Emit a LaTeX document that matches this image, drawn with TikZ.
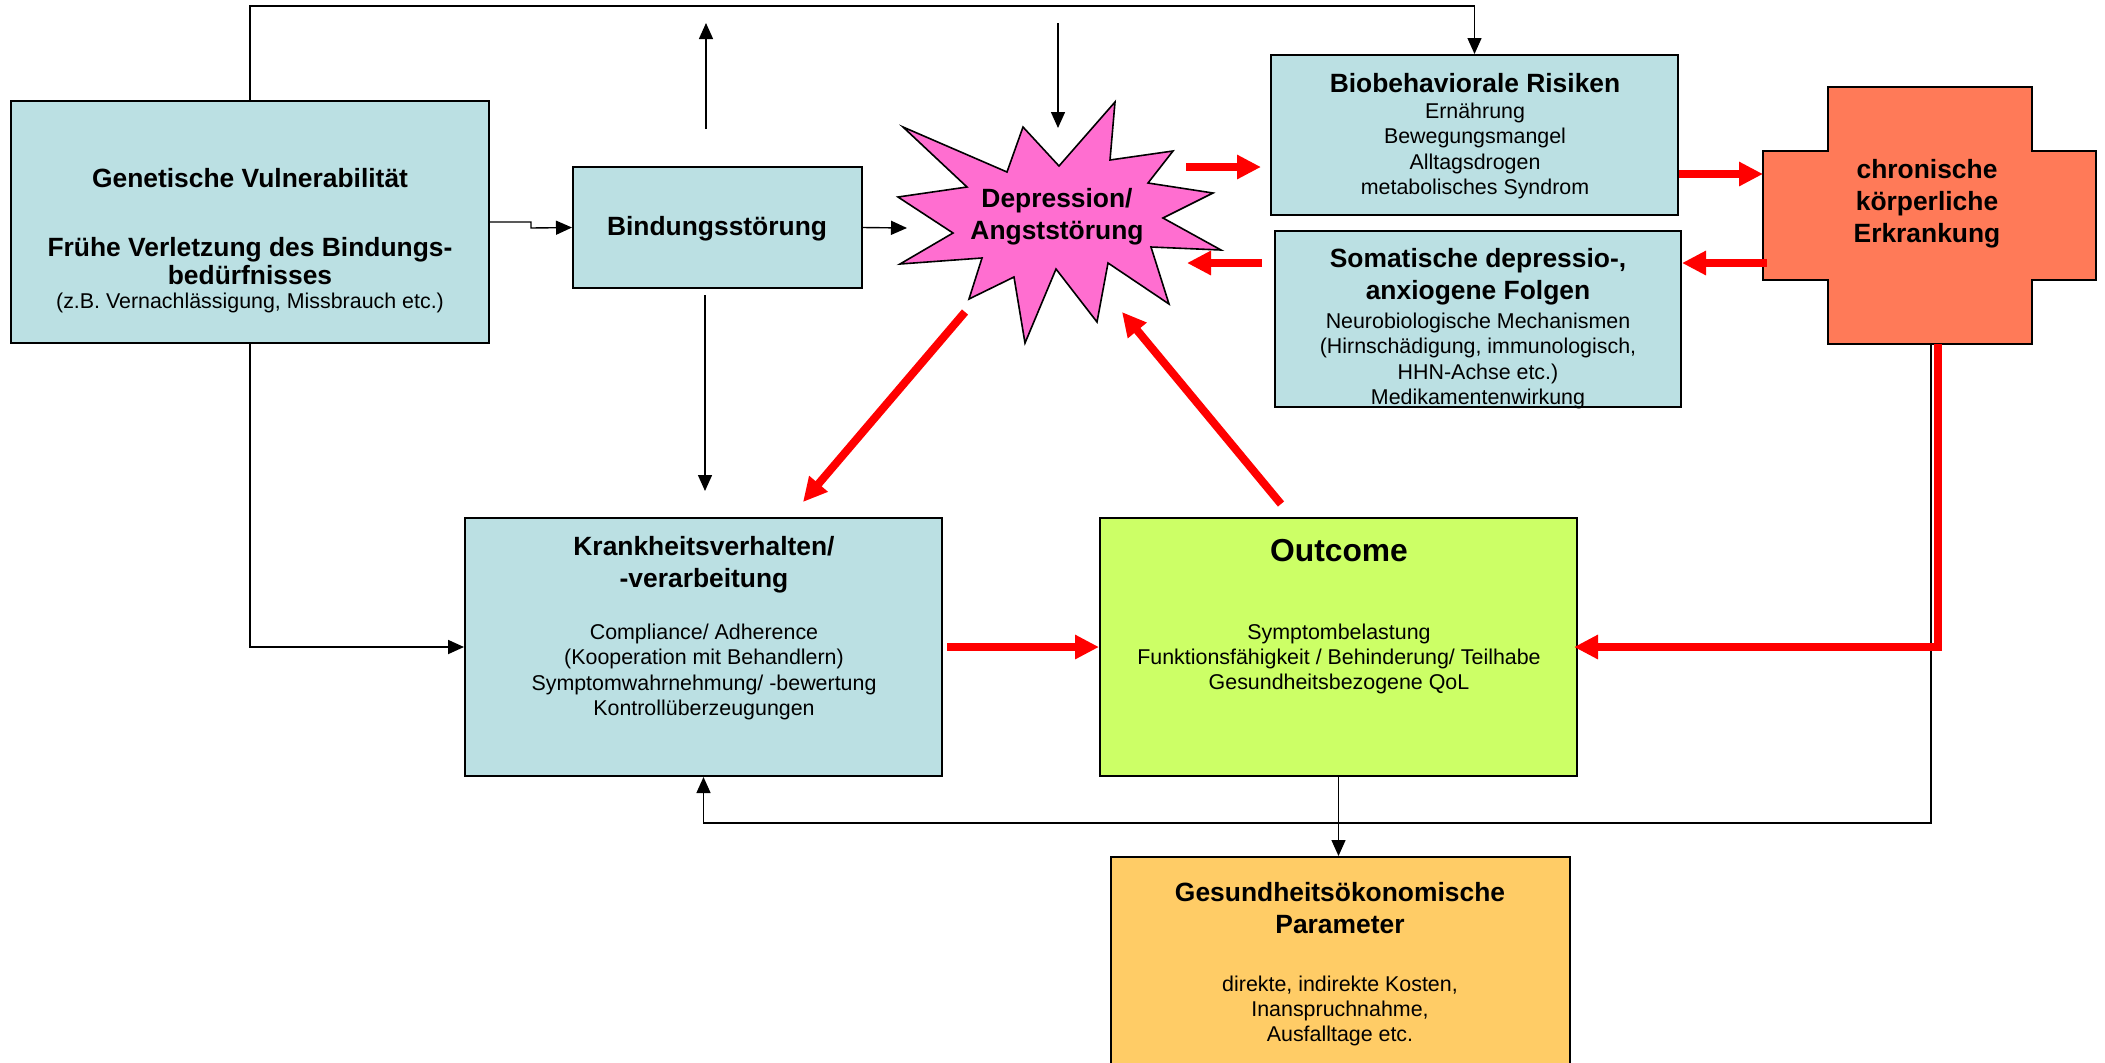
\documentclass[tikz,border=0pt]{standalone}
\usepackage{fontspec}
\setmainfont{Liberation Sans}
\usetikzlibrary{arrows.meta, fit}

\definecolor{vulnblue}{RGB}{187,224,227}
\definecolor{starpink}{RGB}{255,110,208}
\definecolor{chronred}{RGB}{255,122,88}
\definecolor{outgreen}{RGB}{204,255,102}
\definecolor{costorange}{RGB}{255,204,102}

\tikzset{
  box/.style={draw, line width=1pt, inner sep=0pt},
  title/.style={font=\bfseries\fontsize{13.2}{16}\selectfont, align=center, inner sep=0pt},
  body/.style={font=\fontsize{10.7}{12.7}\selectfont, align=center, inner sep=0pt},
  link/.style={line width=0.7pt, -{Triangle[length=8pt,width=7pt]}},
  redlink/.style={red, line width=4pt, -{Triangle[length=12pt,width=11.5pt]}},
}

\begin{document}
\begin{tikzpicture}[x=0.5pt, y=-0.5pt]
      \useasboundingbox (0,0) rectangle (2105,1062);

      \node[box, fill=vulnblue, fit={(11,101) (489,343)}] (gen) {};
      \node[box, fill=vulnblue, fit={(573,167) (862,288)}] (bind) {};
      \node[box, fill=vulnblue, fit={(1271,55) (1678,215)}] (bio) {};
      \node[box, fill=vulnblue, fit={(1275,231) (1681,407)}] (soma) {};
      \node[box, fill=vulnblue, fit={(465,518) (942,776)}] (krank) {};
      \node[box, fill=outgreen, fit={(1100,518) (1577,776)}] (outcome) {};
      \node[box, fill=costorange, fit={(1111,857) (1570,1080)}] (gesund) {};

      % star and cross
      \draw[fill=starpink, line width=0.8pt] plot coordinates {(903,127) (1007,172) (1023,127)
        (1059,166) (1115,102) (1110,160) (1173,151) (1148,183) (1213,193) (1163,218)
        (1221,250) (1151,247) (1169,304) (1108,263) (1097,322) (1056,269) (1025,343)
        (1014,277) (969,299) (982,258) (900,264) (953,233) (898,197) (967,187)} -- cycle;
      \draw[fill=chronred, line width=1pt] (1828,87) -- (2032,87) -- (2032,151) -- (2096,151)
        -- (2096,280) -- (2032,280) -- (2032,344) -- (1828,344) -- (1828,280) -- (1763,280)
        -- (1763,151) -- (1828,151) -- cycle;

      \node[title] (gentitle) at (250,178) {Genetische Vulnerabilität};
      \node[title, font=\bfseries\fontsize{13.2}{14}\selectfont] (genmid) at (250,261)
        {Frühe Verletzung des Bindungs-\\bedürfnisses};
      \node[body] (gensub) at (250,303) {(z.B. Vernachlässigung, Missbrauch etc.)};
      \node[title] (bindtext) at (717,229) {Bindungsstörung};
      \node[title] (depr) at (1057,217) {Depression/\\Angststörung};
      \node[title] (biotitle) at (1475,83) {Biobehaviorale Risiken};
      \node[body] (biotext) at (1475,151) {Ernährung\\Bewegungsmangel\\Alltagsdrogen\\metabolisches Syndrom};
      \node[title] (somatitle) at (1478,277) {Somatische depressio-,\\anxiogene Folgen};
      \node[body] (somatext) at (1478,361) {Neurobiologische Mechanismen\\(Hirnschädigung, immunologisch,\\HHN-Achse etc.)\\Medikamentenwirkung};
      \node[title] (chron) at (1927,204) {chronische\\körperliche\\Erkrankung};
      \node[title] (kranktitle) at (704,565) {Krankheitsverhalten/\\-verarbeitung};
      \node[body] (kranktext) at (704,672) {Compliance/ Adherence\\(Kooperation mit Behandlern)\\Symptomwahrnehmung/ -bewertung\\Kontrollüberzeugungen};
      \node[title, font=\bfseries\fontsize{15.9}{18}\selectfont] (outtitle) at (1339,551) {Outcome};
      \node[body] (outtext) at (1339,659) {Symptombelastung\\Funktionsfähigkeit / Behinderung/ Teilhabe\\Gesundheitsbezogene QoL};
      \node[title] (gestitle) at (1340,908) {Gesundheitsökonomische\\Parameter};
      \node[body] (gestext) at (1340,1011) {direkte, indirekte Kosten,\\Inanspruchnahme,\\Ausfalltage etc.};

      % free ends
      \coordinate (uplow) at (706,129);
      \coordinate (uphigh) at (706,23);
      \coordinate (downhigh) at (1058,23);
      \coordinate (downlow) at (1058,128);
      \coordinate (midhigh) at (705,295);
      \coordinate (midlow) at (705,491);
      \coordinate (deprwest) at (907,228);
      \coordinate (chronfoot) at (1931,344);
      \coordinate (chronfootred) at (1938,344);
      \coordinate (stareast) at (1186,167);
      \coordinate (biowest) at (1261,167);
      \coordinate (chronwest) at (1763,174);
      \coordinate (chronsw) at (1767,263);
      \coordinate (somawest) at (1262,263);
      \coordinate (starse) at (1187,263);
      \coordinate (starsw) at (965,312);
      \coordinate (kranknorth) at (803,502);
      \coordinate (outnorth) at (1281,504);
      \coordinate (starsouth) at (1122,312);

      \draw[link] (gen.north) -- ++(0,-94) -| (bio.north);
      \draw[link] (uplow) -- (uphigh);
      \draw[link] (downhigh) -- (downlow);
      \draw[link] (midhigh) -- (midlow);
      \draw[link] (gen.east) -- ++(41,0) -- ++(0,6) -- (bind.west);
      \draw[link] (bind.east) -- (deprwest);
      \draw[link, line width=0.9pt] (gen.south) |- (krank.west);
      \draw[link] (chronfoot) -- ++(0,479) -| (krank.south);
      \draw[link] (outcome.south) -- (outcome.south |- gesund.north);

      \draw[redlink] (stareast) -- (biowest);
      \draw[redlink] (bio.east |- chronwest) -- (chronwest);
      \draw[redlink] (chronsw) -- (soma.east |- chronsw);
      \draw[redlink] (somawest) -- (starse);
      \draw[redlink] (starsw) -- (kranknorth);
      \draw[redlink] (outnorth) -- (starsouth);
      \draw[redlink, shorten <=2pt] (krank.east) -- (outcome.west);
      \draw[redlink, shorten >=-2pt] (chronfootred) |- (outcome.east);
\end{tikzpicture}
\end{document}
